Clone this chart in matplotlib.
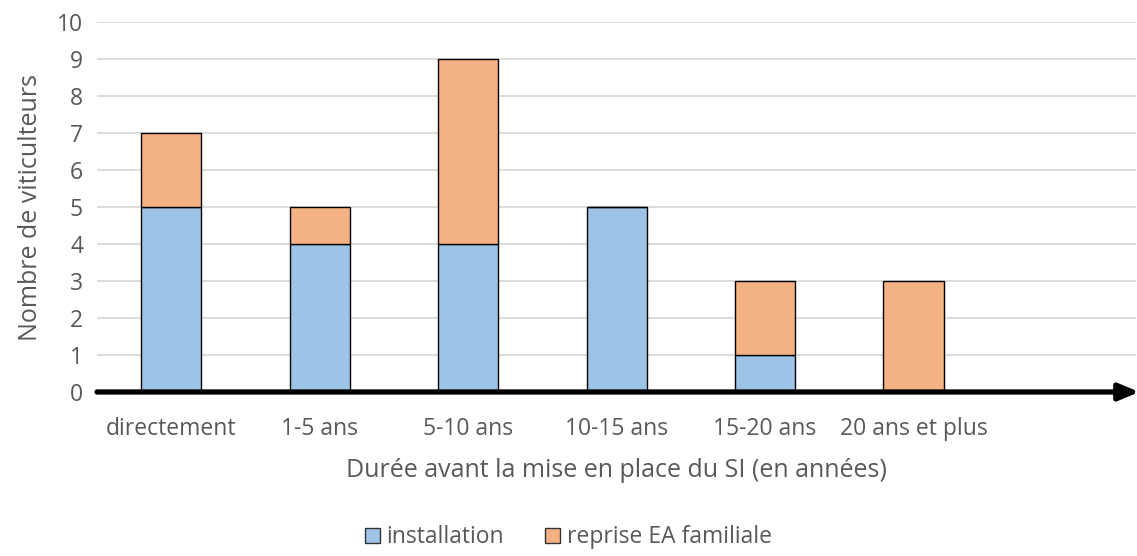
import numpy as np
import matplotlib.pyplot as plt

plt.rcParams['font.family'] = ['Open Sans', 'DejaVu Sans']

categories = ["directement", "1-5 ans", "5-10 ans", "10-15 ans", "15-20 ans", "20 ans et plus", ""]
installation = [5, 4, 4, 5, 1, 0, 0]
reprise = [2, 1, 5, 0, 2, 3, 0]

grey = "#595959"
fig = plt.figure(figsize=(11.37, 5.56), dpi=100)
ax = fig.add_axes([0.0853, 0.295, 0.914, 0.665])

x = np.arange(len(categories))
w = 0.405
ax.bar(x, installation, w, color="#9DC3E6", edgecolor="black", linewidth=1, label="installation", zorder=3)
ax.bar(x, reprise, w, bottom=installation, color="#F4B183", edgecolor="black", linewidth=1,
       label="reprise EA familiale", zorder=3)

ax.set_xlim(-0.5, len(categories) - 0.5)
ax.set_ylim(0, 10)
ax.set_yticks(range(0, 11))
ax.yaxis.grid(True, color="#d9d9d9", linewidth=1.3, zorder=0)
for s in ax.spines.values():
    s.set_visible(False)
ax.tick_params(axis="both", length=0, colors=grey, labelsize=16.5)
ax.tick_params(axis="y", pad=10)
ax.tick_params(axis="x", pad=18)
ax.set_xticks(x)
ax.set_xticklabels(categories)

# thick axis arrow
ax.annotate("", xy=(1.003, 0), xytext=(0, 0), xycoords=("axes fraction", "data"),
            textcoords=("axes fraction", "data"), annotation_clip=False,
            arrowprops=dict(arrowstyle="-|>,head_length=1.2,head_width=0.5", color="black",
                            lw=3.8, shrinkA=0, shrinkB=0), zorder=5)

ax.set_ylabel("Nombre de viticulteurs", color=grey, fontsize=18, labelpad=10)
ax.set_xlabel("Durée avant la mise en place du SI (en années)", color=grey, fontsize=18, labelpad=12)

leg = fig.legend(loc="lower center", bbox_to_anchor=(0.5, -0.025), ncol=2, frameon=False,
                 fontsize=16.5, handlelength=0.65, handleheight=0.65, handletextpad=0.3,
                 columnspacing=1.8, labelcolor=grey)
for h in leg.legend_handles:
    h.set_edgecolor("#333333")

fig.savefig("out.png", dpi=100)
